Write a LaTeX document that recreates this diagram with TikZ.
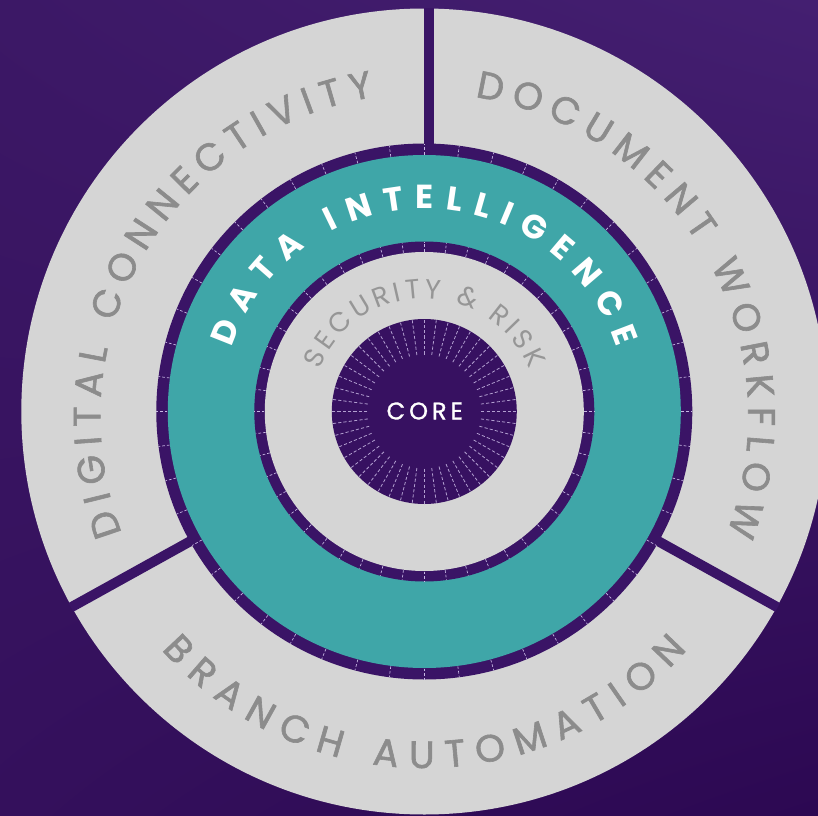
\documentclass[tikz,border=0pt]{standalone}
\usepackage{fontspec}
\setmainfont{Poppins}
\newfontfamily\medfont[FakeBold=1.6]{Poppins}
\newfontfamily\corefont[FakeBold=1.2]{Poppins}
\usetikzlibrary{decorations.text,shadings}

\definecolor{bgul}{RGB}{60,24,102}
\definecolor{bgur}{RGB}{68,31,113}
\definecolor{bgll}{RGB}{52,16,92}
\definecolor{bglr}{RGB}{44,8,82}
\definecolor{labelgray}{RGB}{140,140,140}
\definecolor{securegray}{RGB}{150,150,150}

\newcommand\outertext{\medfont\fontsize{28.5pt}{28.5pt}\selectfont\color{labelgray}}
\newcommand\datatext{\fontsize{25pt}{25pt}\selectfont\bfseries\color{white}}
\newcommand\securetext{\fontsize{20.5pt}{20.5pt}\selectfont\color{securegray}}

\tikzset{every picture/.style={line width=0.75pt}}
\tikzset{
  ring gray/.style={fill={rgb, 255:red, 213; green, 213; blue, 213 }},
  ring dark/.style={fill={rgb, 255:red, 58; green, 20; blue, 102 }},
  ring teal/.style={fill={rgb, 255:red, 63; green, 166; blue, 168 }},
  core fill/.style={fill={rgb, 255:red, 55; green, 17; blue, 97 }},
  divider/.style={draw={rgb, 255:red, 58; green, 20; blue, 102 }, line width=7.5pt},
  ringtick/.style={draw={rgb, 255:red, 200; green, 185; blue, 228 }, line width=0.5pt, dash pattern={on 2pt off 1.5pt}},
  corerays/.style={draw={rgb, 255:red, 200; green, 185; blue, 228 }, draw opacity=0.85, line width=0.6pt, dash pattern={on 2.4pt off 1.6pt}},
}

\begin{document}
\begin{tikzpicture}[x=0.75pt,y=0.75pt,xscale=1,yscale=1]
\useasboundingbox (-424.3,-403.5) rectangle (393.7,411.5);

%Shape: Rectangle (background)
\shade [upper left=bgul, upper right=bgur, lower left=bgll, lower right=bglr] (-424.3,-403.5) rectangle (393.7,411.5);

%Shape: Circle (outer ring)
\fill [ring gray] (0,0) circle (403);
%Straight Lines (dividers)
\draw [divider] (5,262) -- (5,404);
\draw [divider] (209:262) -- (209:404);
\draw [divider] (331:262) -- (331:404);
%Shape: Circle
\fill [ring dark] (0,0) circle (268);
%Shape: Circle
\fill [ring teal] (0,0) circle (256.5);
%Shape: Circle
\fill [ring dark] (0,0) circle (170);
%Shape: Circle
\fill [ring gray] (0,0) circle (159.5);
%Shape: Circle (core)
\fill [core fill] (0,0) circle (92.5);

%Straight Lines (ticks on the rings)
\foreach \a in {0,7.5,...,352.5}{
  \draw [ringtick] (\a:257) -- (\a:268);
  \draw [ringtick] (\a:160) -- (\a:170);
  \draw [corerays] (\a:57) -- (\a:92);
}

% Text along the outer ring
\path [decorate, decoration={text along path, text align=fit to path,
  text={|\outertext|DIGITAL CONNECTIVITY}}]
  ([shift={(0,-5.5)}]201:324) arc [start angle=201, end angle=99, radius=324];
\path [decorate, decoration={text along path, text align=fit to path,
  text={|\outertext|DOCUMENT WORKFLOW}}]
  ([shift={(0,-5.5)}]81:324) arc [start angle=81, end angle=-21, radius=324];
\path [decorate, decoration={text along path, text align=fit to path,
  text={|\outertext|BRANCH AUTOMATION}}]
  ([shift={(0,-5.5)}]221.5:351) arc [start angle=221.5, end angle=318.5, radius=351];

% Text along the teal ring
\path [decorate, decoration={text along path, text align=fit to path,
  text={|\datatext|DATA INTELLIGENCE}}]
  (161.7:203) arc [start angle=161.7, end angle=18.3, radius=203];

% Text along the inner ring
\path [decorate, decoration={text along path, text align=fit to path,
  text={|\securetext|SECURITY {\&} RISK}}]
  (158:113) arc [start angle=158, end angle=22, radius=113];

% Text Node
\node [inner sep=0pt, text=white, font=\corefont\fontsize{18pt}{18pt}\selectfont] (core) at (0.5,0.5) {C\kern3pt O\kern3pt R\kern3pt E};

\end{tikzpicture}
\end{document}
